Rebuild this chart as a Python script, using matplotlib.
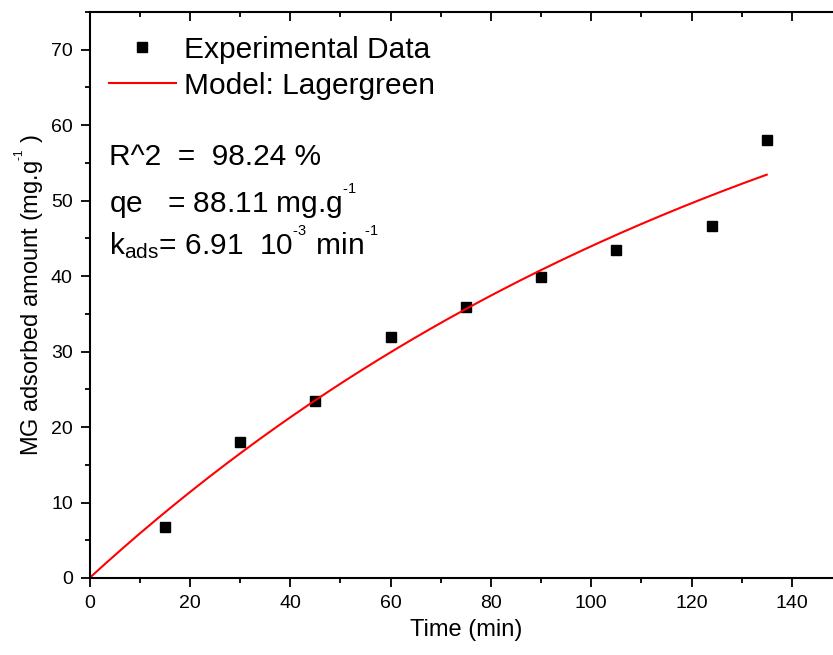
import numpy as np
import matplotlib.pyplot as plt
from matplotlib.ticker import MultipleLocator

plt.rcParams['font.family'] = ['Liberation Sans', 'DejaVu Sans']
plt.rcParams['mathtext.fontset'] = 'custom'
plt.rcParams['mathtext.rm'] = 'Liberation Sans'
plt.rcParams['mathtext.default'] = 'regular'

# experimental data
time_min = [15, 30, 45, 60, 75, 90, 105, 124, 135]
q_exp = [6.8, 18.0, 23.4, 32.0, 35.9, 39.9, 43.5, 46.6, 58.1]

# Lagergren fit parameters (from the chart)
qe = 88.11
k_ads = 6.91e-3

def lagergren(t, qe, k):
    return qe * (1 - np.exp(-k * t))

t_fit = np.linspace(0, 135, 200)
q_fit = lagergren(t_fit, qe, k_ads)

# small, high superscript like the Origin export
def sup(s):
    return '$^{{}^{' + s.replace('-', '\u2010') + '}}$'

fig = plt.figure(figsize=(8.33, 6.55), dpi=100)
ax = fig.add_axes([89.5 / 833, 1 - 578 / 655, (842 - 89.5) / 833, (578 - 12) / 655])

ax.plot(time_min, q_exp, 's', color='black', markersize=7.5, linestyle='none',
        label='Experimental Data')
ax.plot(t_fit, q_fit, '-', color='red', linewidth=1.5, label='Model: Lagergreen')

ax.set_xlim(0, 150)
ax.set_ylim(0, 75)
ax.xaxis.set_major_locator(MultipleLocator(20))
ax.xaxis.set_minor_locator(MultipleLocator(10))
ax.yaxis.set_major_locator(MultipleLocator(10))
ax.yaxis.set_minor_locator(MultipleLocator(5))

for s in ax.spines.values():
    s.set_linewidth(1.5)

ax.tick_params(which='both', direction='out', width=1.3, labelsize=14,
               top=True, right=True)
ax.tick_params(which='major', length=6.5, pad=5.5)
ax.tick_params(which='minor', length=3.3)
# top / right ticks point inward
for t in ax.xaxis.get_major_ticks() + ax.xaxis.get_minor_ticks():
    t.tick2line.set_marker(3)
for t in ax.yaxis.get_major_ticks() + ax.yaxis.get_minor_ticks():
    t.tick2line.set_marker(0)
    t.tick2line.set_color('#999999')

ax.set_xlabel('Time (min)', fontsize=17, labelpad=5)
ax.set_ylabel('MG adsorbed amount (mg.g' + sup('-1') + ' )', fontsize=17, labelpad=3)

leg = ax.legend(loc='upper left', bbox_to_anchor=(-0.002, 0.995), frameon=False,
                fontsize=21.5, handlelength=2.24, handletextpad=0.27,
                labelspacing=0.27, borderaxespad=0.3)

ax.text(0.026, 0.7297, 'R^2  =  98.24 %', transform=ax.transAxes,
        fontsize=21.5, va='baseline')
ax.text(0.026, 0.6449, 'qe   = 88.11 mg.g' + sup('-1'), transform=ax.transAxes,
        fontsize=21.5, va='baseline')
ax.text(0.026, 0.5707, 'k$_{ads}$= 6.91  10' + sup('-3') + ' min' + sup('-1'),
        transform=ax.transAxes, fontsize=21.5, va='baseline')

fig.savefig('out.png', dpi=100)
